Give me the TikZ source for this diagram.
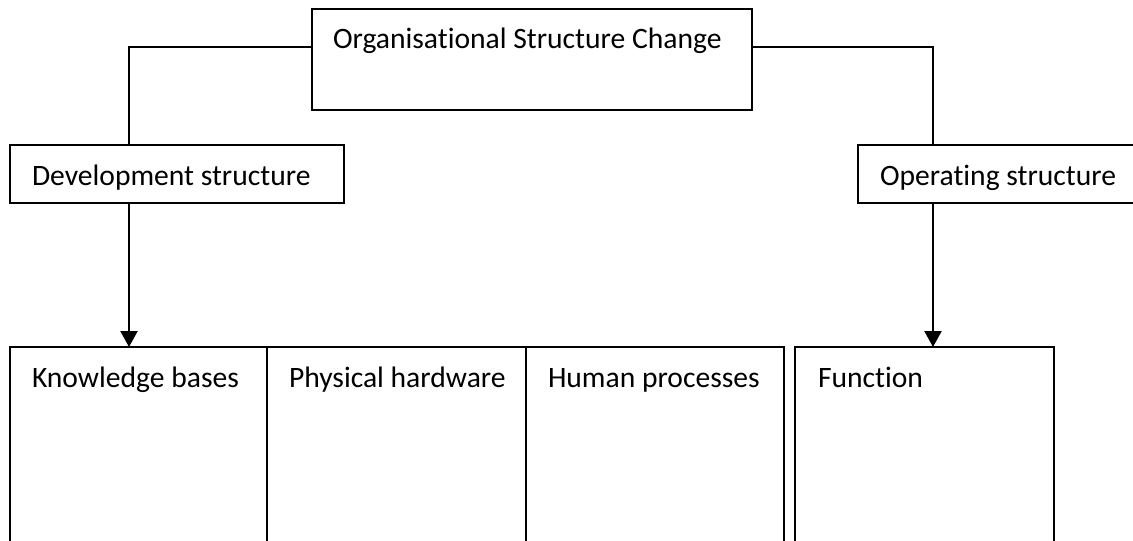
\documentclass[tikz,border=0pt]{standalone}
\usepackage{fontspec}
\setmainfont[Ligatures={NoCommon}]{Carlito}
\usetikzlibrary{arrows.meta}
\begin{document}
\begin{tikzpicture}[x=1pt,y=-1pt,
  box/.style={draw=black,line width=2.2pt,inner sep=0pt,outer sep=0pt,anchor=north west},
  lbl/.style={anchor=base west,inner sep=0pt,outer sep=0pt,font=\fontsize{29.6}{35}\selectfont},
  link/.style={draw=black,line width=2.2pt},
  tip/.style={-{Triangle[length=16pt,width=17pt]}}]
\useasboundingbox (0,0) rectangle (1133,541);
\clip (0,0) rectangle (1133,541);

% boxes
\node[box,minimum width=440pt,minimum height=101pt] (top) at (312,9) {};
\node[box,minimum width=334pt,minimum height=58pt] (dev) at (10,145) {};
\node[box,minimum width=290pt,minimum height=58pt] (ops) at (858,145) {};
\node[box,minimum width=257pt,minimum height=230pt] (kb) at (10,347) {};
\node[box,minimum width=259pt,minimum height=230pt] (ph) at (267,347) {};
\node[box,minimum width=258pt,minimum height=230pt] (hp) at (526,347) {};
\node[box,minimum width=259pt,minimum height=230pt] (fn) at (795,347) {};

% labels
\node[lbl] (topT) at ([shift={(21,39)}]top.north west) {Organisational Structure Change};
\node[lbl] (devT) at ([shift={(22,40)}]dev.north west) {Development structure};
\node[lbl] (opsT) at ([shift={(22,40)}]ops.north west) {Operating structure};
\node[lbl] (kbT) at ([shift={(22,40)}]kb.north west) {Knowledge bases};
\node[lbl] (phT) at ([shift={(22,40)}]ph.north west) {Physical hardware};
\node[lbl] (hpT) at ([shift={(22,40)}]hp.north west) {Human processes};
\node[lbl] (fnT) at ([shift={(23,40)}]fn.north west) {Function};

% connectors
\coordinate (lj) at (129,47);
\coordinate (rj) at (933,47);
\draw[link] (top.west |- lj) -- (lj) -- (dev.north -| lj);
\draw[link] (top.east |- rj) -- (rj) -- (ops.north -| rj);
\draw[link,tip] (dev.south -| lj) -- (kb.north -| lj);
\draw[link,tip] (ops.south -| rj) -- (fn.north -| rj);
\end{tikzpicture}
\end{document}
